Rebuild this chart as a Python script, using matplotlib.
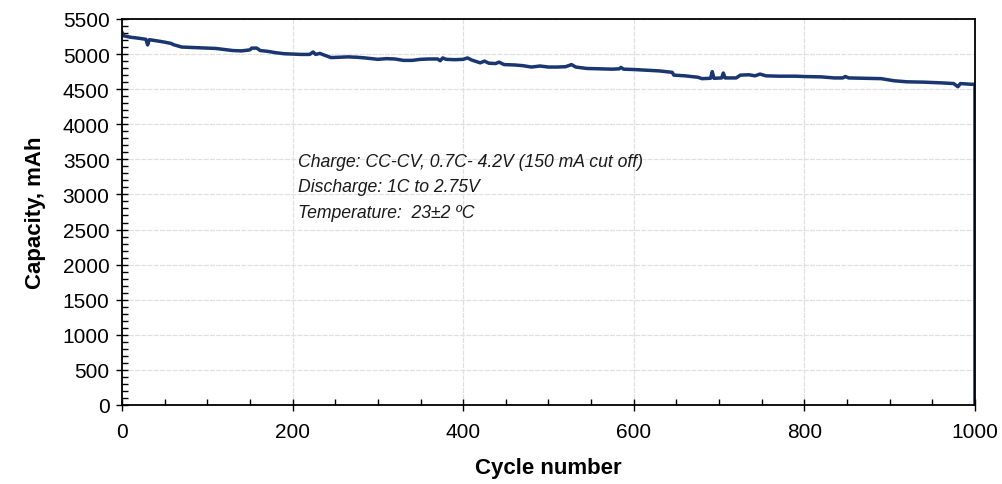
import matplotlib.pyplot as plt
from matplotlib.ticker import MultipleLocator

plt.rcParams['font.family'] = ['Liberation Sans', 'DejaVu Sans']

# capacity (spikes kept as separate points)
cycles = [0, 2, 10, 20, 28, 30, 32, 40, 50, 58, 60, 70, 80, 90, 100, 110, 120,
          130, 140, 150, 152, 158, 162, 170, 180, 190, 200, 210, 220, 224, 227,
          232, 236, 245, 255, 265, 275, 285, 300, 310, 320, 330, 340, 350, 360,
          370, 373, 376, 380, 390, 400, 405, 410, 420, 425, 430, 438, 442, 448,
          460, 470, 480, 490, 500, 510, 520, 527, 532, 545, 560, 575, 583, 585,
          588, 600, 615, 630, 645, 647, 660, 675, 680, 690, 692, 694, 703, 705,
          707, 720, 725, 735, 742, 748, 755, 770, 790, 800, 820, 835, 845, 848,
          852, 870, 890, 905, 920, 940, 960, 975, 980, 983, 995, 1000, 1000]
capacity = [5310, 5260, 5240, 5225, 5210, 5130, 5205, 5190, 5170, 5150, 5135,
            5100, 5095, 5090, 5085, 5080, 5065, 5050, 5045, 5060, 5085, 5085,
            5050, 5040, 5020, 5005, 5000, 4995, 4995, 5030, 4995, 5010, 4990,
            4950, 4955, 4960, 4955, 4945, 4925, 4935, 4930, 4910, 4910, 4925,
            4930, 4930, 4905, 4945, 4925, 4920, 4925, 4945, 4915, 4875, 4900,
            4870, 4865, 4885, 4850, 4845, 4835, 4815, 4830, 4815, 4815, 4820,
            4850, 4815, 4795, 4790, 4785, 4790, 4810, 4785, 4780, 4770, 4760,
            4740, 4700, 4690, 4670, 4650, 4655, 4750, 4655, 4660, 4730, 4660,
            4660, 4700, 4705, 4690, 4715, 4690, 4685, 4685, 4680, 4675, 4660,
            4660, 4680, 4660, 4655, 4650, 4620, 4605, 4600, 4590, 4580, 4535,
            4580, 4570, 4570, 0]

note = ('Charge: CC-CV, 0.7C- 4.2V (150 mA cut off)\n'
        'Discharge: 1C to 2.75V\n'
        'Temperature:  23\u00b12 \u00baC')

fig = plt.figure(figsize=(10.02, 4.85), dpi=100)
ax = fig.add_axes([0.1218, 0.1629, 0.8512, 0.7959])

ax.plot(cycles, capacity, color='#1a3670', lw=2.5, solid_joinstyle='round')

ax.set_xlim(0, 1000)
ax.set_ylim(0, 5500)
ax.xaxis.set_major_locator(MultipleLocator(200))
ax.xaxis.set_minor_locator(MultipleLocator(50))
ax.yaxis.set_major_locator(MultipleLocator(500))
ax.yaxis.set_minor_locator(MultipleLocator(100))
ax.grid(True, which='major', color='#e0e0e0', lw=0.9, ls=(0, (4, 1)))
ax.set_axisbelow(True)

ax.tick_params(which='major', direction='inout', length=8, width=1,
               labelsize=15, colors='black')
ax.tick_params(which='minor', direction='in', length=4, width=1)
ax.tick_params(axis='x', pad=8)
ax.tick_params(axis='y', pad=5)
for s in ax.spines.values():
    s.set_linewidth(1.3)
    s.set_color('black')

ax.set_xlabel('Cycle number', fontsize=16, fontweight='bold', labelpad=12)
ax.set_ylabel('Capacity, mAh', fontsize=16, fontweight='bold', labelpad=12)

ax.text(206, 3590, note, fontsize=12.7, style='italic', va='top', ha='left',
        linespacing=1.65, color='#1a1a1a')

fig.savefig('out.png', dpi=100)
